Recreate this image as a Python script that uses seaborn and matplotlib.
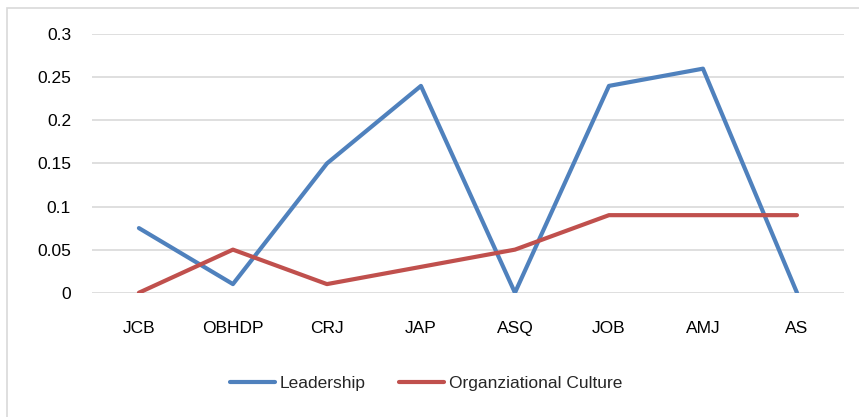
import numpy as np
import pandas as pd
import matplotlib
matplotlib.use("Agg")
import matplotlib.pyplot as plt
import seaborn as sns
from matplotlib.patches import Rectangle

journals = ["JCB", "OBHDP", "CRJ", "JAP", "ASQ", "JOB", "AMJ", "AS"]
leadership = [0.075, 0.01, 0.15, 0.24, 0.0, 0.24, 0.26, 0.0]
org_culture = [0.0, 0.05, 0.01, 0.03, 0.05, 0.09, 0.09, 0.09]
series_names = ["Leadership", "Organziational Culture"]
y_ticks = [0, 0.05, 0.1, 0.15, 0.2, 0.25, 0.3]
y_tick_labels = ["0", "0.05", "0.1", "0.15", "0.2", "0.25", "0.3"]

df = pd.DataFrame({
    "journal": journals * 2,
    "value": leadership + org_culture,
    "series": [series_names[0]] * len(journals) + [series_names[1]] * len(journals),
})

sns.set_style("white")
plt.rcParams["font.family"] = ["Liberation Sans", "DejaVu Sans"]

fig = plt.figure(figsize=(8.59, 4.17), dpi=100)
ax = fig.add_axes([0.107, 0.297, 0.8755, 0.621])

palette = {series_names[0]: "#4F81BD", series_names[1]: "#C0504D"}
sns.lineplot(data=df, x="journal", y="value", hue="series", palette=palette,
             sort=False, linewidth=3, ax=ax, solid_capstyle="round")

ax.set_xlim(-0.5, len(journals) - 0.5)
ax.set_yticks(y_ticks)
ax.set_yticklabels(y_tick_labels)
ax.set_ylim(-0.0005, 0.3)
ax.yaxis.grid(True, color="#D9D9D9", linewidth=1.2)
ax.set_axisbelow(True)
for s in ax.spines.values():
    s.set_visible(False)
ax.tick_params(axis="both", length=0, labelsize=12.5, colors="#000000")
ax.tick_params(axis="y", pad=15)
ax.tick_params(axis="x", pad=20)
ax.set_xlabel("")
ax.set_ylabel("")

handles, labels = ax.get_legend_handles_labels()
ax.legend(handles, labels, loc="center", bbox_to_anchor=(0.496, 0.0815),
          bbox_transform=fig.transFigure, ncol=2, frameon=False,
          fontsize=12.5, handlelength=2.6, columnspacing=1.9, handletextpad=0.3)

# chart area border (right and bottom edges fall outside the image)
fig.patches.append(Rectangle((7 / 859, -0.1), 1.1, 1.1 - 8 / 417,
                             transform=fig.transFigure, fill=False,
                             edgecolor="#D9D9D9", linewidth=1.2))

fig.savefig("out.png", dpi=100)
